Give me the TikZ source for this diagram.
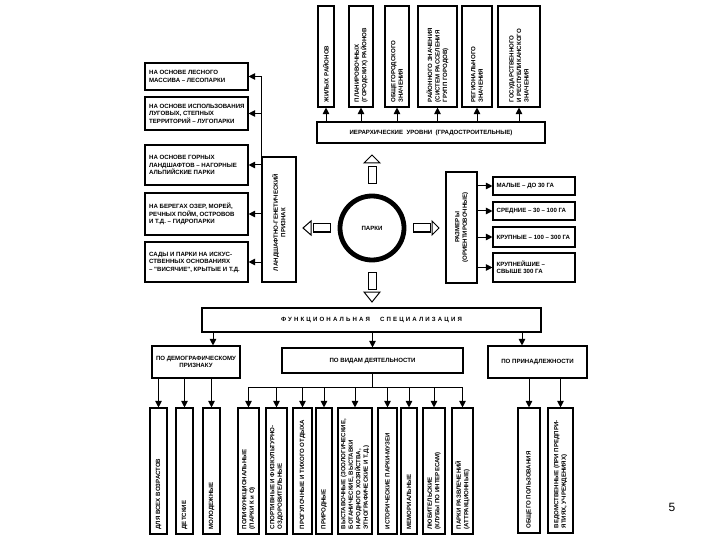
\documentclass[tikz,border=0pt]{standalone}
\usepackage{fontspec}
\newfontfamily\df{Liberation Sans}
\newfontfamily\pf{Liberation Sans}
\usetikzlibrary{arrows.meta,fit}
\newcommand\bxat[5]{\node[bx, fit={(#2,#3) (#4,#5)}] (#1) {};}
\begin{document}
\begin{tikzpicture}[x=1pt,y=-1pt,
 bx/.style={draw, line width=1.1pt, inner sep=0pt},
 txt/.style={font=\df\bfseries\fontsize{6.1}{7.5}\selectfont, inner sep=0pt},
 vt/.style={txt, rotate=90, anchor=west, align=left},
 vc/.style={txt, rotate=90, anchor=center, align=center},
 ht/.style={txt, anchor=west, align=left},
 arr/.style={line width=1pt, -{Triangle[length=6.5pt,width=6.5pt]}},
 ln/.style={line width=1pt},
 hol/.style={draw, line width=1pt, fill=white}]
\fill[white] (0,0) rectangle (720,540);
\useasboundingbox (0,0) rectangle (720,540);

% ---------- top: hierarchical levels ----------
\bxat{T1}{318}{6}{334}{107}
\bxat{T2}{349}{6}{373}{107}
\bxat{T3}{385}{6}{409}{107}
\bxat{T4}{418}{6}{457}{107}
\bxat{T5}{462}{6}{492}{107}
\bxat{T6}{498}{6}{540}{107}
\node[vt] (T1t) at ([yshift=5pt]T1.south) {ЖИЛЫХ РАЙОНОВ};
\node[vt] (T2t) at ([yshift=5pt]T2.south) {ПЛАНИРОВОЧНЫХ\\(ГОРОДСКИХ) РАЙОНОВ};
\node[vt] (T3t) at ([yshift=5pt]T3.south) {ОБЩЕГОРОДСКОГО\\ЗНАЧЕНИЯ};
\node[vt] (T4t) at ([yshift=5pt]T4.south) {РАЙОННОГО ЗНАЧЕНИЯ\\(СИСТЕМ РАССЕЛЕНИЯ\\ГРУПП ГОРОДОВ)};
\node[vt] (T5t) at ([yshift=5pt]T5.south) {РЕГИОНАЛЬНОГО\\ЗНАЧЕНИЯ};
\node[vt] (T6t) at ([yshift=5pt]T6.south) {ГОСУДАРСТВЕННОГО\\И РЕСПУБЛИКАНСКОГО\\ЗНАЧЕНИЯ};
\bxat{H}{317}{122}{545}{143}
\node[txt] (Ht) at (H.center) {ИЕРАРХИЧЕСКИЕ\ \ УРОВНИ\ \ (ГРАДОСТРОИТЕЛЬНЫЕ)};
\foreach \t in {T1,T2,T3,T4,T5,T6}{\draw[arr] (H.north -| \t.south) -- (\t.south);}

% ---------- left: landscape-genetic ----------
\bxat{L1}{145}{63}{248}{90}
\bxat{L2}{145}{97}{248}{130}
\bxat{L3}{145}{145}{248}{185}
\bxat{L4}{145}{193}{248}{235}
\bxat{L5}{145}{242}{248}{282}
\node[ht] (L1t) at ([xshift=4.5pt]L1.west) {НА ОСНОВЕ ЛЕСНОГО\\МАССИВА – ЛЕСОПАРКИ};
\node[ht] (L2t) at ([xshift=4.5pt]L2.west) {НА ОСНОВЕ ИСПОЛЬЗОВАНИЯ\\ЛУГОВЫХ, СТЕПНЫХ\\ТЕРРИТОРИЙ – ЛУГОПАРКИ};
\node[ht] (L3t) at ([xshift=4.5pt]L3.west) {НА ОСНОВЕ ГОРНЫХ\\ЛАНДШАФТОВ – НАГОРНЫЕ\\АЛЬПИЙСКИЕ ПАРКИ};
\node[ht] (L4t) at ([xshift=4.5pt]L4.west) {НА БЕРЕГАХ ОЗЕР, МОРЕЙ,\\РЕЧНЫХ ПОЙМ, ОСТРОВОВ\\И Т.Д. – ГИДРОПАРКИ};
\node[ht] (L5t) at ([xshift=4.5pt]L5.west) {САДЫ И ПАРКИ НА ИСКУС-\\СТВЕННЫХ ОСНОВАНИЯХ\\– "ВИСЯЧИЕ", КРЫТЫЕ И Т.Д.};
\bxat{LV}{262}{157}{296}{282}
\node[vc] (LVt) at ([yshift=-3pt]LV.center) {ЛАНДШАФТНО-ГЕНЕТИЧЕСКИЙ\\ПРИЗНАК};
\draw[ln] (LV.north west) -- (LV.west |- L1.east);
\foreach \b in {L1,L2,L3,L4,L5}{\draw[arr] (LV.west |- \b.east) -- (\b.east);}

% ---------- centre ----------
\node[circle, draw, line width=4.8pt, minimum size=64pt, txt] (P) at (372,228) {ПАРКИ};
\draw[hol] (368,167) rectangle (376,184);
\draw[hol] (364,163) -- (372,155) -- (380,163) -- cycle;
\draw[hol] (368,272) rectangle (376,289);
\draw[hol] (364,292) -- (372,302) -- (380,292) -- cycle;
\draw[hol] (313,224) rectangle (330,232);
\draw[hol] (311,221) -- (303,228) -- (311,235) -- cycle;
\draw[hol] (413,224) rectangle (430,232);
\draw[hol] (432,221) -- (439,228) -- (432,235) -- cycle;

% ---------- right: sizes ----------
\bxat{RV}{446}{172}{477}{283}
\node[vc] (RVt) at (RV.center) {РАЗМЕРЫ\\(ОРИЕНТИРОВОЧНЫЕ)};
\bxat{S1}{493}{177}{575}{195}
\bxat{S2}{493}{202}{575}{220}
\bxat{S3}{493}{227}{575}{247}
\bxat{S4}{493}{253}{575}{282}
\node[ht] (S1t) at ([xshift=4pt]S1.west) {МАЛЫЕ – ДО 30 ГА};
\node[ht] (S2t) at ([xshift=4pt]S2.west) {СРЕДНИЕ – 30 – 100 ГА};
\node[ht] (S3t) at ([xshift=4pt]S3.west) {КРУПНЫЕ – 100 – 300 ГА};
\node[ht] (S4t) at ([xshift=4pt]S4.west) {КРУПНЕЙШИЕ –\\СВЫШЕ 300 ГА};
\foreach \b in {S1,S2,S3,S4}{\draw[arr] (RV.east |- \b.west) -- (\b.west);}

% ---------- functional specialisation ----------
\bxat{F}{202}{308}{541}{332}
\node[txt] (Ft) at (F.center) {\addfontfeature{LetterSpace=35}ФУНКЦИОНАЛЬНАЯ\hspace{10pt}СПЕЦИАЛИЗАЦИЯ};
\bxat{M1}{152}{346}{240}{378}
\bxat{M2}{282}{348}{463}{373}
\bxat{M3}{488}{346}{587}{378}
\node[txt, align=center] (M1t) at (M1.center) {ПО ДЕМОГРАФИЧЕСКОМУ\\ПРИЗНАКУ};
\node[txt] (M2t) at (M2.center) {ПО ВИДАМ ДЕЯТЕЛЬНОСТИ};
\node[txt] (M3t) at (M3.center) {ПО ПРИНАДЛЕЖНОСТИ};
\coordinate (f1) at (213,332);
\coordinate (f3) at (522,332);
\draw[arr] (f1) -- (f1 |- M1.north);
\draw[arr] (F.south -| M2.north) -- (M2.north);
\draw[arr] (f3) -- (f3 |- M3.north);

% ---------- bottom boxes ----------
\bxat{D1}{150}{408}{167}{534}
\bxat{D2}{176}{408}{193}{534}
\bxat{D3}{203}{408}{220}{534}
\node[vt] (D1t) at ([yshift=5pt]D1.south) {ДЛЯ ВСЕХ ВОЗРАСТОВ};
\node[vt] (D2t) at ([yshift=5pt]D2.south) {ДЕТСКИЕ};
\node[vt] (D3t) at ([yshift=5pt]D3.south) {МОЛОДЕЖНЫЕ};
\foreach \b in {D1,D2,D3}{\draw[arr] (M1.south -| \b.north) -- (\b.north);}

\bxat{A1}{238}{408}{259}{534}
\bxat{A2}{266}{408}{287}{534}
\bxat{A3}{293}{408}{312}{534}
\bxat{A4}{316}{408}{332}{534}
\bxat{A5}{338}{408}{372}{534}
\bxat{A6}{378}{408}{397}{534}
\bxat{A7}{401}{408}{417}{534}
\bxat{A8}{423}{408}{445}{534}
\bxat{A9}{452}{408}{473}{534}
\node[vt] (A1t) at ([yshift=5pt]A1.south) {ПОЛИФУНКЦИОНАЛЬНЫЕ\\(ПАРКИ К и О)};
\node[vt] (A2t) at ([yshift=5pt]A2.south) {СПОРТИВНЫЕ И ФИЗКУЛЬТУРНО-\\ОЗДОРОВИТЕЛЬНЫЕ};
\node[vt] (A3t) at ([yshift=5pt]A3.south) {ПРОГУЛОЧНЫЕ И ТИХОГО ОТДЫХА};
\node[vt] (A4t) at ([yshift=5pt]A4.south) {ПРИРОДНЫЕ};
\node[vt] (A5t) at ([yshift=5pt]A5.south) {ВЫСТАВОЧНЫЕ (ЗООЛОГИЧЕСКИЕ,\\БОТАНИЧЕСКИЕ, ВЫСТАВКИ\\НАРОДНОГО ХОЗЯЙСТВА,\\ЭТНОГРАФИЧЕСКИЕ И Т.Д.)};
\node[vt] (A6t) at ([yshift=5pt]A6.south) {ИСТОРИЧЕСКИЕ ПАРКИ-МУЗЕИ};
\node[vt] (A7t) at ([yshift=5pt]A7.south) {МЕМОРИАЛЬНЫЕ};
\node[vt] (A8t) at ([yshift=5pt]A8.south) {ЛЮБИТЕЛЬСКИЕ\\(КЛУБЫ ПО ИНТЕРЕСАМ)};
\node[vt] (A9t) at ([yshift=5pt]A9.south) {ПАРКИ РАЗВЛЕЧЕНИЙ\\(АТТРАКЦИОННЫЕ)};
\coordinate (bus) at (372,387);
\draw[ln] (M2.south) -- (M2.south |- bus);
\draw[ln] (A1.north |- bus) -- (A9.north |- bus);
\foreach \b in {A1,A2,A3,A4,A5,A6,A7,A8,A9}{\draw[arr] (\b.north |- bus) -- (\b.north);}

\bxat{O1}{518}{408}{540}{533}
\bxat{O2}{548}{408}{573}{533}
\node[vt] (O1t) at ([yshift=5pt]O1.south) {ОБЩЕГО ПОЛЬЗОВАНИЯ};
\node[vt] (O2t) at ([yshift=5pt]O2.south) {ВЕДОМСТВЕННЫЕ (ПРИ ПРЕДПРИ-\\ЯТИЯХ, УЧРЕЖДЕНИЯХ)};
\foreach \b in {O1,O2}{\draw[arr] (M3.south -| \b.north) -- (\b.north);}

\node[font=\pf\fontsize{12}{14}\selectfont, inner sep=0pt] (pg) at (672,507) {5};
\end{tikzpicture}
\end{document}
